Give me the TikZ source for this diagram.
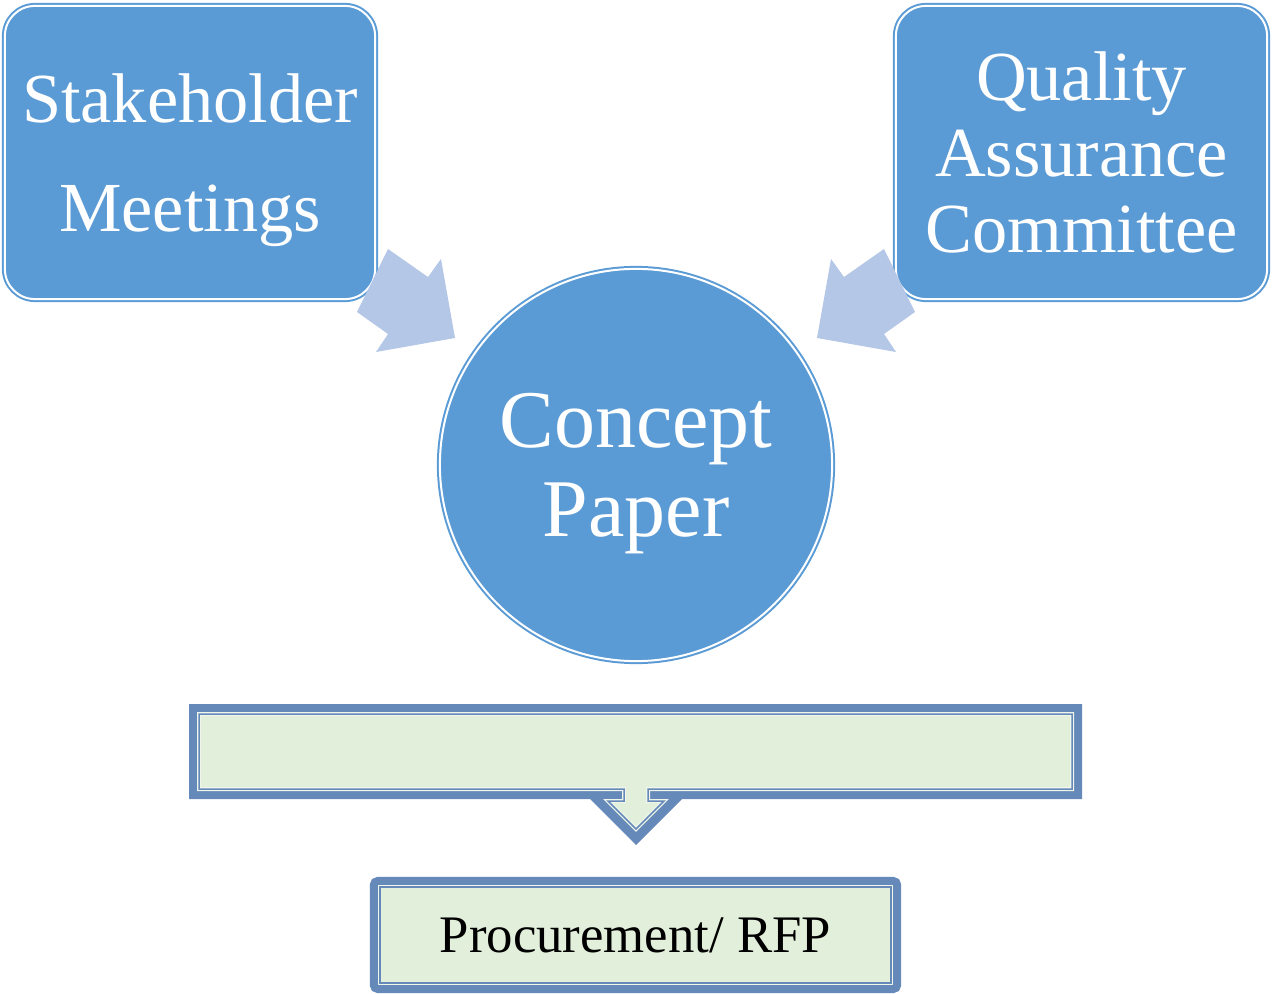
\documentclass[tikz,border=0pt]{standalone}
\usepackage{fontspec}
\setmainfont{Liberation Serif}
\usetikzlibrary{calc}
\definecolor{boxblue}{RGB}{91,155,213}
\definecolor{arrowblue}{RGB}{180,199,231}
\definecolor{frameblue}{RGB}{101,137,184}
\definecolor{palegreen}{RGB}{226,239,218}
\definecolor{paleline}{RGB}{240,246,236}
\begin{document}
\begin{tikzpicture}[x=0.01cm,y=-0.01cm,
  bluebox/.style={draw=white,line width=0.02cm,fill=boxblue,text=white,align=center,
    inner sep=0pt,outer sep=0pt,preaction={fill=boxblue,draw=boxblue,line width=0.06cm}},
  greenbox/.style={draw=frameblue,line width=0.015cm,fill=palegreen,inner sep=0pt,outer sep=0pt,
    preaction={draw=paleline,line width=0.05cm}}]
%
\def\fw{0.08cm};
\def\lw{0.015cm};
\def\inner{(199,714)--(1072,714)--(1072,789)--(648,789)--(648,801)--(664,801)--(636,829)--(608,801)--(624,801)--(624,789)--(199,789)--cycle};
%
\useasboundingbox (0,0) rectangle (1272,994);
%
\node[bluebox,rounded corners=0.3cm,minimum width=3.70cm,minimum height=2.93cm,text depth=0pt,
  font=\fontsize{20}{31}\selectfont] (stake) at (190,152.5) {Stakeholder\\Meetings};
\node[bluebox,rounded corners=0.3cm,minimum width=3.71cm,minimum height=2.93cm,
  font=\fontsize{20}{21.5}\selectfont] (qac) at (1081.5,152.5) {Quality\\Assurance\\Committee};
\node[bluebox,circle,minimum size=3.92cm,text depth=0pt,
  font=\fontsize{23.3}{25.5}\selectfont] (paper) at (636,465) {Concept\\Paper};
%
\fill[arrowblue](388,249)--(428,277)--(441,259)--(455,338)--(376,352)--(388,334)--(357,312)--cycle;
\fill[arrowblue](884,249)--(844,277)--(831,259)--(817,338)--(896,352)--(884,334)--(915,312)--cycle;
%
\fill[frameblue](189,704)--(1082,704)--(1082,799)--(682,799)--(636,845)--(590,799)--(189,799)--cycle;
\draw[paleline,line width=0.04cm,fill=palegreen]\inner;
\draw[frameblue,line width=\lw]\inner;
%
\node[greenbox,minimum width=5.11cm,minimum height=0.96cm,
  font=\fontsize{15}{18}\selectfont] (rfp) at (635.5,935) {Procurement/ RFP};
\draw[frameblue,line width=\fw,rounded corners=0.04cm]($(rfp.north west)+(-6,-6)$) rectangle ($(rfp.south east)+(6,6)$);
%
\end{tikzpicture}
\end{document}
